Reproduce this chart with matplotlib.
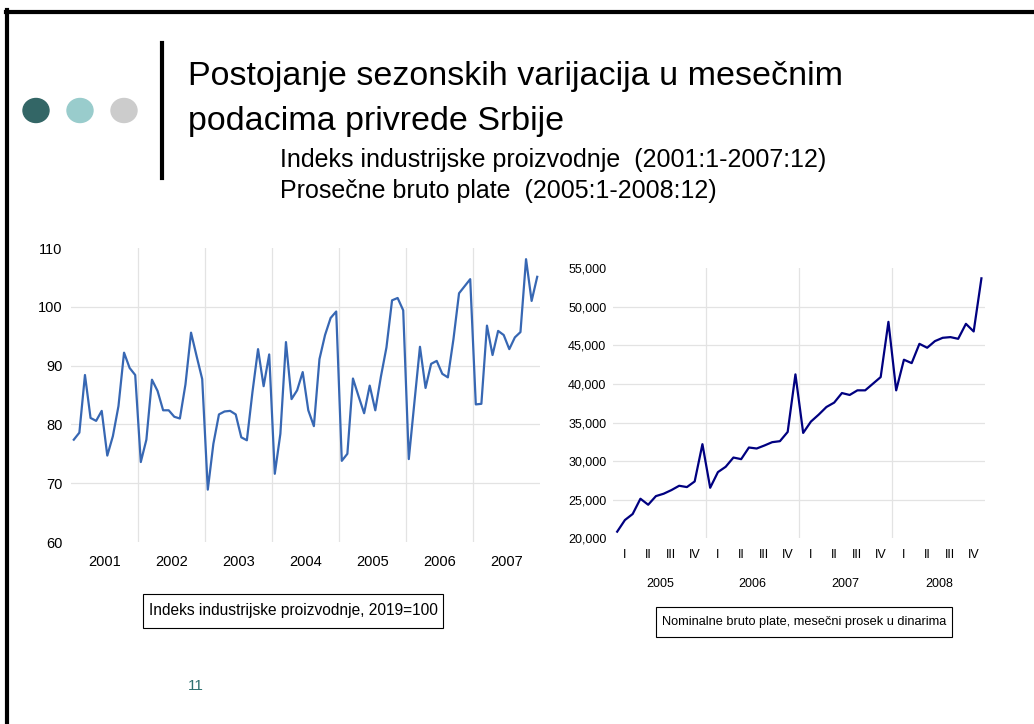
import matplotlib
matplotlib.use("Agg")
import matplotlib.pyplot as plt
from matplotlib.patches import Rectangle, Ellipse
from matplotlib.lines import Line2D

W, H = 1034, 724

# --- data ---
godine_ipi = ["2001", "2002", "2003", "2004", "2005", "2006", "2007"]
industrija = [
    77.4, 78.6, 88.4, 81.1, 80.6, 82.3, 74.7, 78.0, 83.1, 92.2, 89.6, 88.4,
    73.6, 77.4, 87.6, 85.7, 82.4, 82.4, 81.3, 81.0, 86.8, 95.6, 91.6, 87.7,
    68.9, 76.7, 81.7, 82.2, 82.3, 81.7, 77.8, 77.3, 85.5, 92.8, 86.5, 91.9,
    71.6, 78.4, 94.0, 84.3, 85.8, 88.9, 82.4, 79.7, 91.1, 95.2, 98.1, 99.2,
    73.8, 75.0, 87.8, 84.8, 81.9, 86.6, 82.4, 88.1, 93.1, 101.1, 101.5, 99.4,
    74.1, 83.7, 93.2, 86.2, 90.3, 90.8, 88.6, 88.0, 94.5, 102.3, 103.5, 104.7,
    83.4, 83.5, 96.8, 91.8, 95.9, 95.2, 92.8, 94.8, 95.7, 108.1, 101.0, 105.1,
]
ipi_yticks = [60, 70, 80, 90, 100, 110]

godine_plate = ["2005", "2006", "2007", "2008"]
kvartali = ["I", "II", "III", "IV"]
plate = [
    20860, 22370, 23150, 25130, 24350, 25470, 25780, 26250, 26810, 26640, 27370, 32200,
    26550, 28580, 29270, 30470, 30260, 31770, 31640, 32030, 32460, 32590, 33790, 41250,
    33660, 35130, 36030, 37020, 37590, 38830, 38580, 39180, 39180, 40040, 40900, 48060,
    39180, 43150, 42710, 45210, 44700, 45560, 45990, 46080, 45860, 47800, 46810, 53700,
]
plate_yticks = [20000, 25000, 30000, 35000, 40000, 45000, 50000, 55000]

sans = "Liberation Sans"
grid_c = "#e3e3e3"


def fx(x):
    return x / W


def fy(y):
    return 1 - y / H


fig = plt.figure(figsize=(W / 100, H / 100), dpi=100)

# --- slide decoration ---
fig.add_artist(Line2D([fx(6), fx(W)], [fy(13), fy(13)], color="#b0b0b0", lw=1.5))
fig.add_artist(Line2D([fx(6), fx(W)], [fy(11.5), fy(11.5)], color="black", lw=3))
fig.add_artist(Line2D([fx(7), fx(7)], [fy(10), fy(H)], color="black", lw=3))
fig.add_artist(Line2D([fx(162), fx(162)], [fy(43), fy(178)], color="black", lw=3))
for cx, col in zip([36, 80, 124], ["#336666", "#99cccc", "#cccccc"]):
    fig.add_artist(Ellipse((fx(cx), fy(110.5)), 26 / W, 24 / H,
                           transform=fig.transFigure, color=col))

fig.text(fx(188), fy(85), "Postojanje sezonskih varijacija u mesečnim",
         fontsize=24.5, family=sans, va="baseline")
fig.text(fx(188), fy(130), "podacima privrede Srbije",
         fontsize=24.5, family=sans, va="baseline")
fig.text(fx(280), fy(167), "Indeks industrijske proizvodnje  (2001:1-2007:12)",
         fontsize=18, family=sans, va="baseline")
fig.text(fx(280), fy(198), "Prosečne bruto plate  (2005:1-2008:12)",
         fontsize=18, family=sans, va="baseline")

# --- left chart: industrial production ---
ax1 = fig.add_axes([fx(71), fy(542), 469 / W, 294 / H])
x1 = list(range(len(industrija)))
ax1.plot(x1, industrija, color="#3767b3", lw=1.6, zorder=3)
ax1.set_xlim(-0.5, len(industrija) - 0.5)
ax1.set_ylim(60, 110)
ax1.set_yticks(ipi_yticks)
ax1.set_yticklabels([str(v) for v in ipi_yticks], family=sans, fontsize=10.5)
ax1.set_xticks([12 * i + 5.5 for i in range(len(godine_ipi))])
ax1.set_xticklabels(godine_ipi, family=sans, fontsize=10.5)
ax1.tick_params(length=0, pad=6)
ax1.tick_params(axis="x", pad=9)
for v in ipi_yticks[1:-1]:
    ax1.axhline(v, color=grid_c, lw=0.9, zorder=1)
for i in range(1, len(godine_ipi)):
    ax1.axvline(12 * i - 0.5, color=grid_c, lw=0.9, zorder=1)
for s in ax1.spines.values():
    s.set_visible(False)

# --- right chart: gross wages ---
ax2 = fig.add_axes([fx(613.3), fy(538.3), 372 / W, 270 / H])
x2 = list(range(len(plate)))
ax2.plot(x2, plate, color="#000080", lw=1.6, zorder=3)
ax2.set_xlim(-0.5, len(plate) - 0.5)
ax2.set_ylim(20000, 55000)
ax2.set_yticks(plate_yticks)
ax2.set_yticklabels([f"{v:,}" for v in plate_yticks], family=sans, fontsize=9)
ax2.set_xticks([3 * q + 1 for q in range(len(plate) // 3)])
ax2.set_xticklabels(kvartali * len(godine_plate), family=sans, fontsize=9)
ax2.tick_params(length=0, pad=5)
ax2.tick_params(axis="x", pad=8)
for i, g in enumerate(godine_plate):
    ax2.text(12 * i + 5.5, -0.17, g, transform=ax2.get_xaxis_transform(),
             ha="center", va="center", family=sans, fontsize=9)
for v in plate_yticks[1:-1]:
    ax2.axhline(v, color=grid_c, lw=0.9, zorder=1)
for i in range(1, len(godine_plate)):
    ax2.axvline(12 * i - 0.5, color=grid_c, lw=0.9, zorder=1)
for s in ax2.spines.values():
    s.set_visible(False)

# --- caption boxes ---
fig.add_artist(Rectangle((fx(143), fy(628)), 300 / W, 34 / H,
                         transform=fig.transFigure, fill=False, ec="black", lw=0.8))
fig.text(fx(293), fy(611), "Indeks industrijske proizvodnje, 2019=100",
         ha="center", va="center", family=sans, fontsize=11.2)
fig.add_artist(Rectangle((fx(656), fy(637)), 296 / W, 30 / H,
                         transform=fig.transFigure, fill=False, ec="black", lw=0.8))
fig.text(fx(804), fy(622), "Nominalne bruto plate, mesečni prosek u dinarima",
         ha="center", va="center", family=sans, fontsize=9.2)

fig.text(fx(196), fy(686), "11", ha="center", va="center",
         family=sans, fontsize=11, color="#2e7070")

fig.savefig("out.png", dpi=100)
